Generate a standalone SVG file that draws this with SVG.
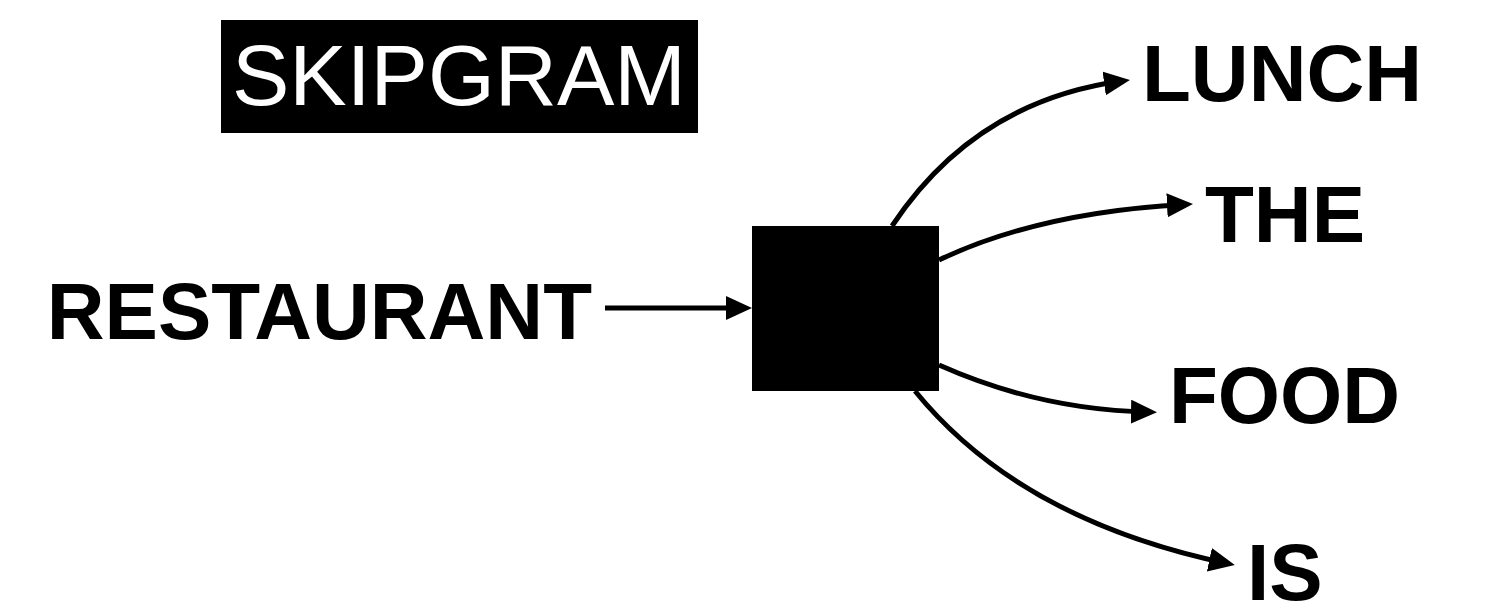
<svg xmlns="http://www.w3.org/2000/svg" width="1486" height="606" viewBox="0 0 1486 606">
  <style>
    .word { font-family: "Liberation Sans", Arial, sans-serif; font-weight: bold; font-size: 80px; fill: #000; }
    .title { font-family: "Liberation Sans", Arial, sans-serif; font-size: 86px; fill: #fff; }
    .conn { fill: none; stroke: #000; stroke-width: 5; }
  </style>
  <defs>
    <marker id="arrow" markerUnits="userSpaceOnUse" markerWidth="26" markerHeight="24" viewBox="0 0 26 24" refX="18" refY="12" orient="auto">
      <path d="M0,0 L26,12 L0,24 z" fill="#000"/>
    </marker>
  </defs>
  <rect width="1486" height="606" fill="#fff"/>
  <g id="title">
    <rect x="221" y="20" width="477" height="113" fill="#000"/>
    <text class="title" x="459" y="105" text-anchor="middle">SKIPGRAM</text>
  </g>
  <g id="restaurant">
    <text class="word" x="592" y="339" text-anchor="end">RESTAURANT</text>
  </g>
  <g id="hidden">
    <rect x="752" y="226" width="187" height="165" fill="#000"/>
  </g>
  <g id="lunch">
    <text class="word" x="1142" y="101">LUNCH</text>
  </g>
  <g id="the">
    <text class="word" x="1205" y="242">THE</text>
  </g>
  <g id="food">
    <text class="word" x="1169" y="423">FOOD</text>
  </g>
  <g id="is">
    <text class="word" x="1247" y="600">IS</text>
  </g>
  <g id="connectors">
    <path class="conn" d="M605,308 L744,308" marker-end="url(#arrow)"/>
    <path class="conn" d="M892,226 Q975,101 1122,81" marker-end="url(#arrow)"/>
    <path class="conn" d="M939,260 Q1040,212 1185,204.4" marker-end="url(#arrow)"/>
    <path class="conn" d="M939,365 Q1040,410 1149,412" marker-end="url(#arrow)"/>
    <path class="conn" d="M915,391 Q1020,520 1227,563.4" marker-end="url(#arrow)"/>
  </g>
</svg>
